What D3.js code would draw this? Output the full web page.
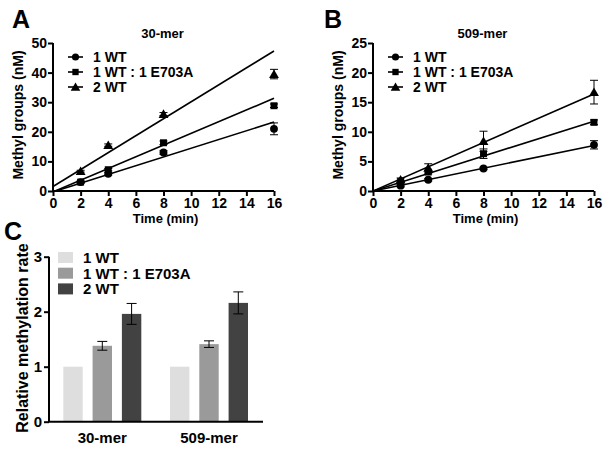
<!DOCTYPE html>
<html><head><meta charset="utf-8">
<script src="https://cdn.jsdelivr.net/npm/d3@7"></script>
<style>body{margin:0;background:#fff}svg{display:block;font-family:"Liberation Sans",Arial,sans-serif;font-weight:bold}</style>
</head><body><svg id="c" width="608" height="450"></svg>
<script>
const times = [2, 4, 8, 16];
const seriesNames = ["1 WT", "1 WT : 1 E703A", "2 WT"];
// Panel A (30-mer)
const a_wt = [3, 5.8, 13, 21];
const a_wt_err = [0.3, 0.4, 0.6, 2.0];
const a_mix = [3, 7.2, 16.3, 28.8];
const a_mix_err = [0.3, 0.4, 0.6, 0.6];
const a_2wt = [6.7, 15.5, 26, 39.5];
const a_2wt_err = [0.3, 0.4, 0.5, 1.6];
const a_fit = [[-0.3, 23.3], [-0.3, 31.3], [1.5, 47.3]]; // fit line y at t=0 and t=16
// Panel B (509-mer)
const b_wt = [0.9, 1.9, 3.8, 7.8];
const b_wt_err = [0.2, 0.2, 0.2, 0.7];
const b_mix = [1.6, 3.2, 6.3, 11.6];
const b_mix_err = [0.2, 0.3, 0.8, 0.4];
const b_2wt = [1.9, 3.9, 8.4, 16.7];
const b_2wt_err = [0.3, 0.7, 1.7, 2.0];
const b_fit = [[0, 7.7], [0, 11.8], [0, 16.4]];
const xTicks = [0, 2, 4, 6, 8, 10, 12, 14, 16];
const aYTicks = [0, 10, 20, 30, 40, 50];
const bYTicks = [0, 5, 10, 15, 20, 25];
// Panel C
const substrates = ["30-mer", "509-mer"];
const rate_wt = [1.0, 1.0];
const rate_mix = [1.38, 1.41];
const rate_mix_err = [0.08, 0.06];
const rate_2wt = [1.96, 2.16];
const rate_2wt_err = [0.19, 0.2];
const cYTicks = [0, 1, 2, 3];
const barColors = ["#dedede", "#9a9a9a", "#424242"];

const svg = d3.select("#c");
const symTypes = [d3.symbolCircle, d3.symbolSquare, d3.symbolTriangle];

function linePanel(opt) {
  const g = svg.append("g");
  const x = d3.scaleLinear().domain([0, 16]).range([opt.x0, opt.x1]);
  const y = d3.scaleLinear().domain([0, opt.ymax]).range([191, 43]);
  const clipId = "clip" + opt.id;
  svg.append("clipPath").attr("id", clipId).append("rect")
    .attr("x", opt.x0).attr("y", 40).attr("width", opt.x1 - opt.x0 + 3).attr("height", 151);
  opt.fits.forEach(f => {
    g.append("line").attr("clip-path", `url(#${clipId})`)
      .attr("x1", x(0)).attr("y1", y(f[0])).attr("x2", x(16)).attr("y2", y(f[1]))
      .attr("stroke", "#000").attr("stroke-width", 1.6);
  });
  opt.series.forEach((s, i) => {
    const sym = d3.symbol().type(symTypes[i]).size(i === 2 ? 42 : 48);
    s.v.forEach((v, j) => {
      const cx = x(times[j]), cy = y(v), e = s.e[j];
      g.append("line").attr("x1", cx).attr("x2", cx).attr("y1", y(v + e)).attr("y2", y(v - e)).attr("stroke", "#000").attr("stroke-width", 1);
      [v + e, v - e].forEach(t => g.append("line").attr("x1", cx - 4).attr("x2", cx + 4).attr("y1", y(t)).attr("y2", y(t)).attr("stroke", "#000").attr("stroke-width", 1));
      g.append("path").attr("d", sym()).attr("transform", `translate(${cx},${cy + (i === 2 ? 1 : 0)})`).attr("fill", "#000");
    });
  });
  const xa = g.append("g").attr("transform", "translate(0,191)")
    .call(d3.axisBottom(x).tickValues(xTicks).tickSize(5).tickPadding(2));
  const ya = g.append("g").attr("transform", `translate(${opt.x0},0)`)
    .call(d3.axisLeft(y).tickValues(opt.yTicks).tickSize(5).tickPadding(1));
  [xa, ya].forEach(a => {
    a.select(".domain").attr("stroke-width", 2).attr("stroke", "#000");
    a.selectAll(".tick line").attr("stroke-width", 2).attr("stroke", "#000");
    a.selectAll("text").attr("font-size", 14).attr("font-weight", "bold").attr("font-family", "Liberation Sans, Arial, sans-serif").attr("fill", "#000");
  });
  xa.select(".domain").attr("d", `M${opt.x0},0H${opt.x1}`);
  ya.select(".domain").attr("d", `M0,191V43`);
  g.append("text").attr("x", (opt.x0 + opt.x1) / 2 - 1).attr("y", 38).attr("text-anchor", "middle").attr("font-size", 13).text(opt.title);
  g.append("text").attr("x", (opt.x0 + opt.x1) / 2 + 2).attr("y", 223).attr("text-anchor", "middle").attr("font-size", 13).text("Time (min)");
  g.append("text").attr("transform", `translate(${opt.x0 - 30},115) rotate(-90)`).attr("text-anchor", "middle").attr("font-size", 14).text("Methyl groups (nM)");
  g.append("text").attr("x", opt.lx - 2).attr("y", 28).attr("font-size", 25).text(opt.letter);
  seriesNames.forEach((n, i) => {
    const ly = 57 + i * 15;
    const sym = d3.symbol().type(symTypes[i]).size(40);
    g.append("line").attr("x1", opt.x0 + 15).attr("x2", opt.x0 + 30).attr("y1", ly).attr("y2", ly).attr("stroke", "#000").attr("stroke-width", 1.6);
    g.append("path").attr("d", sym()).attr("transform", `translate(${opt.x0 + 22.5},${ly + (i === 2 ? 1 : 0)})`);
    g.append("text").attr("x", opt.x0 + 40).attr("y", ly + 5).attr("font-size", 14).text(n);
  });
}

linePanel({id: "A", x0: 53, x1: 274, ymax: 50, yTicks: aYTicks, title: "30-mer", letter: "A", lx: 14,
  fits: a_fit, series: [{v: a_wt, e: a_wt_err}, {v: a_mix, e: a_mix_err}, {v: a_2wt, e: a_2wt_err}]});
linePanel({id: "B", x0: 373, x1: 594, ymax: 25, yTicks: bYTicks, title: "509-mer", letter: "B", lx: 326,
  fits: b_fit, series: [{v: b_wt, e: b_wt_err}, {v: b_mix, e: b_mix_err}, {v: b_2wt, e: b_2wt_err}]});

// Panel C
(function () {
  const g = svg.append("g");
  const y = d3.scaleLinear().domain([0, 3]).range([421.7, 256.7]);
  const groupX = d3.scalePoint().domain(substrates).range([102.3, 209]);
  const inner = d3.scalePoint().domain(seriesNames).range([-29.3, 29.3]);
  const vals = [rate_wt, rate_mix, rate_2wt];
  const errs = [null, rate_mix_err, rate_2wt_err];
  const bw = 19.4;
  substrates.forEach((s, si) => {
    vals.forEach((arr, k) => {
      const cx = groupX(s) + inner(seriesNames[k]);
      g.append("rect").attr("x", cx - bw / 2).attr("y", y(arr[si])).attr("width", bw).attr("height", y(0) - y(arr[si])).attr("fill", barColors[k]);
      if (errs[k]) {
        const v = arr[si], e = errs[k][si];
        g.append("line").attr("x1", cx).attr("x2", cx).attr("y1", y(v + e)).attr("y2", y(v - e)).attr("stroke", "#000").attr("stroke-width", 1);
        [v + e, v - e].forEach(t => g.append("line").attr("x1", cx - 5).attr("x2", cx + 5).attr("y1", y(t)).attr("y2", y(t)).attr("stroke", "#000").attr("stroke-width", 1));
      }
    });
    g.append("text").attr("x", groupX(s)).attr("y", 443).attr("text-anchor", "middle").attr("font-size", 15).text(s);
  });
  const ya = g.append("g").attr("transform", "translate(49,0)")
    .call(d3.axisLeft(y).tickValues(cYTicks).tickFormat(d3.format("d")).tickSize(5).tickPadding(2));
  ya.select(".domain").attr("d", "M0,421.7V256.7").attr("stroke-width", 2);
  ya.selectAll(".tick line").attr("stroke-width", 2);
  ya.selectAll("text").attr("font-size", 15).attr("font-weight", "bold").attr("font-family", "Liberation Sans, Arial, sans-serif").attr("fill", "#000");
  g.append("line").attr("x1", 48).attr("x2", 263).attr("y1", 421.7).attr("y2", 421.7).attr("stroke", "#000").attr("stroke-width", 2);
  g.append("text").attr("transform", "translate(28,338) rotate(-90)").attr("text-anchor", "middle").attr("font-size", 16).text("Relative methylation rate");
  g.append("text").attr("x", 4).attr("y", 240).attr("font-size", 25).text("C");
  seriesNames.forEach((n, i) => {
    const ly = 252 + i * 15.7;
    g.append("rect").attr("x", 58).attr("y", ly).attr("width", 15).attr("height", 11).attr("fill", barColors[i]);
    g.append("text").attr("x", 83).attr("y", ly + 11).attr("font-size", 15).text(n);
  });
})();
</script></body></html>
